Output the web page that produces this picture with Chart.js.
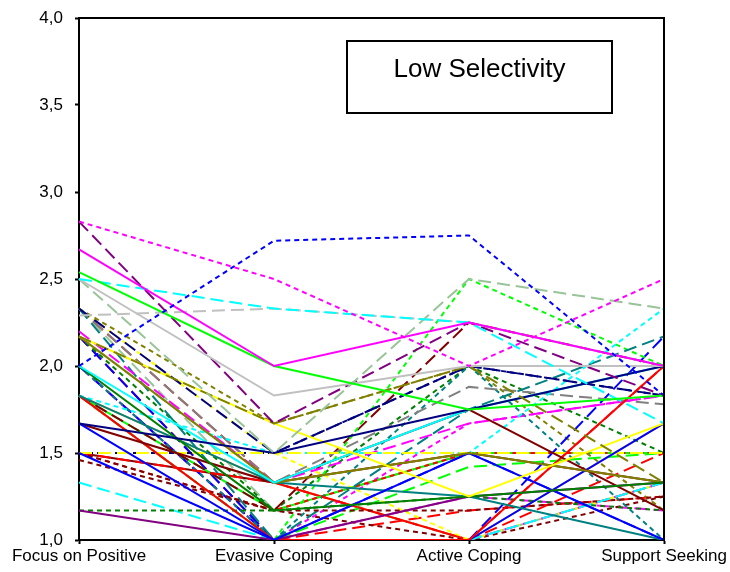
<!DOCTYPE html>
<html>
<head>
<meta charset="utf-8">
<script src="https://cdn.jsdelivr.net/npm/chart.js@4"></script>
<style>
  html, body { margin: 0; padding: 0; background: #fff; }
  #wrap { width: 730px; height: 572px; }
</style>
</head>
<body>
<div id="wrap"><canvas id="profileChart" width="730" height="572"></canvas></div>
<script>
// categories (scales of the coping profile)
const categories = ['Focus on Positive', 'Evasive Coping', 'Active Coping', 'Support Seeking'];
const yTicks = [1.0, 1.5, 2.0, 2.5, 3.0, 3.5, 4.0];
const groupLabel = 'Low Selectivity';

// one value per case
const focusOnPositive = [2.83, 2.00, 2.67, 2.54, 2.50, 2.50, 2.29, 2.50, 2.83, 2.17,
                         1.67, 2.33, 2.17, 2.00, 2.00, 2.17, 1.67, 1.17, 1.83, 1.67,
                         1.83, 1.50, 1.50, 1.83, 1.50, 1.17, 1.33, 1.50, 1.50, 1.83,
                         2.20, 2.33, 2.33, 1.83, 1.83, 2.00, 2.17, 2.00, 1.83, 2.33,
                         2.33, 1.50, 1.83, 2.17, 1.50, 2.33, 2.00, 1.46, 2.17, 2.17,
                         2.00, 1.83, 2.33];
const evasiveCoping   = [2.50, 2.72, 2.00, 2.00, 2.33, 1.83, 2.33, 1.50, 1.67, 1.67,
                         1.50, 1.50, 1.67, 1.33, 1.17, 1.33, 1.00, 1.00, 1.33, 1.33,
                         1.00, 1.00, 1.50, 1.50, 1.50, 1.17, 1.00, 1.17, 1.33, 1.00,
                         1.33, 1.00, 1.33, 1.00, 1.17, 1.00, 1.17, 1.00, 1.00, 1.50,
                         1.67, 1.17, 1.17, 1.00, 1.33, 1.33, 1.00, 1.17, 1.33, 1.00,
                         1.00, 1.33, 1.17];
const activeCoping    = [2.00, 2.75, 2.25, 1.75, 2.25, 2.00, 2.25, 2.50, 2.25, 2.00,
                         1.75, 2.00, 1.25, 1.75, 1.25, 1.50, 1.50, 1.25, 1.25, 1.75,
                         1.00, 1.00, 1.50, 1.50, 2.00, 1.25, 1.00, 1.17, 1.00, 1.42,
                         1.67, 1.75, 1.88, 2.50, 2.25, 2.00, 2.00, 1.00, 1.00, 1.00,
                         2.00, 1.50, 1.50, 1.50, 1.50, 1.00, 1.67, 1.00, 1.00, 1.17,
                         1.25, 1.00, 1.50];
const supportSeeking  = [2.50, 1.83, 2.00, 1.83, 1.67, 2.00, 2.00, 2.33, 1.83, 1.33,
                         2.00, 1.83, 1.67, 2.00, 1.33, 1.33, 1.00, 1.33, 1.00, 1.17,
                         2.00, 1.67, 1.50, 2.33, 1.83, 1.17, 1.33, 1.25, 1.50, 1.50,
                         1.83, 2.17, 1.78, 2.00, 2.00, 1.00, 1.50, 2.17, 1.33, 1.33,
                         1.17, 1.50, 1.50, 1.00, 1.33, 2.00, 1.83, 1.25, 1.33, 1.25,
                         1.17, 1.67, 1.50];

// line styles per case
const pal = {
  blue: '#0000FF', red: '#FF0000', lime: '#00FF00', magenta: '#FF00FF', cyan: '#00FFFF',
  yellow: '#FFFF00', maroon: '#800000', green: '#008000', navy: '#000080', olive: '#808000',
  purple: '#800080', teal: '#008080', silver: '#C0C0C0', gray: '#808080', sage: '#99C499',
  orange: '#FFC000'
};
const lineColors = ['magenta', 'blue', 'magenta', 'lime', 'cyan', 'silver', 'silver', 'sage', 'purple', 'olive',
                    'navy', 'navy', 'yellow', 'cyan', 'green', 'olive', 'blue', 'purple', 'teal', 'maroon',
                    'red', 'blue', 'yellow', 'cyan', 'navy', 'green', 'cyan', 'maroon', 'red', 'lime',
                    'magenta', 'teal', 'gray', 'lime', 'maroon', 'teal', 'green', 'blue', 'magenta', 'yellow',
                    'olive', 'red', 'lime', 'blue', 'maroon', 'red', 'magenta', 'maroon', 'sage', 'red',
                    'magenta', 'orange', 'sage'];
const lineDashes = ['short', 'short', 'solid', 'solid', 'long', 'solid', 'long', 'long', 'long', 'long',
                    'solid', 'long', 'solid', 'solid', 'solid', 'solid', 'solid', 'solid', 'solid', 'solid',
                    'solid', 'solid', 'long', 'short', 'short', 'short', 'long', 'short', 'long', 'long',
                    'long', 'long', 'long', 'short', 'long', 'short', 'short', 'long', 'long', 'short',
                    'short', 'short', 'solid', 'long', 'solid', 'long', 'short', 'short', 'long', 'long',
                    'long', 'solid', 'long'];
const dashPatterns = { solid: [], short: [5, 4], long: [13, 6] };

const fmt = v => v.toFixed(1).replace('.', ',');

const datasets = focusOnPositive.map((fp, i) => ({
  label: 'Case ' + (i + 1),
  data: [fp, evasiveCoping[i], activeCoping[i], supportSeeking[i]],
  borderColor: pal[lineColors[i]],
  borderDash: dashPatterns[lineDashes[i]],
  borderWidth: 2,
  pointRadius: 0,
  tension: 0,
  fill: false
}));

// frame around plot area and the group label box
const framePlugin = {
  id: 'frame',
  afterDraw(chart) {
    const { ctx, chartArea: a } = chart;
    ctx.save();
    ctx.strokeStyle = '#000';
    ctx.lineWidth = 2;
    ctx.beginPath();
    ctx.moveTo(a.left, a.top);
    ctx.lineTo(a.right, a.top);
    ctx.lineTo(a.right, a.bottom);
    ctx.stroke();

    // label box
    const bx = a.left + 268, by = a.top + 23, bw = 265, bh = 72;
    ctx.fillStyle = '#fff';
    ctx.fillRect(bx, by, bw, bh);
    ctx.lineWidth = 2;
    ctx.strokeRect(bx, by, bw, bh);
    ctx.fillStyle = '#000';
    ctx.font = '26px Arial, "Liberation Sans", sans-serif';
    ctx.textAlign = 'center';
    ctx.textBaseline = 'middle';
    ctx.fillText(groupLabel, bx + bw / 2, by + 29);
    ctx.restore();
  }
};

const ctx = document.getElementById('profileChart').getContext('2d');
new Chart(ctx, {
  type: 'line',
  data: { labels: categories, datasets: datasets },
  options: {
    responsive: false,
    animation: false,
    layout: { padding: { top: 18, right: 66, left: 0, bottom: 0 } },
    plugins: { legend: { display: false }, tooltip: { enabled: false } },
    scales: {
      x: {
        offset: false,
        grid: { drawOnChartArea: false, drawTicks: true, tickLength: 4, tickColor: '#000', tickWidth: 2 },
        border: { color: '#000', width: 2 },
        ticks: {
          color: '#000',
          padding: 2,
          maxRotation: 0,
          autoSkip: false,
          font: { family: 'Arial, "Liberation Sans", sans-serif', size: 17 }
        },
        afterFit(scale) {
          scale.height = 32;
          scale.paddingLeft = 0;
          scale.paddingRight = 0;
        }
      },
      y: {
        min: 1,
        max: 4,
        afterBuildTicks(scale) {
          scale.ticks = yTicks.map(v => ({ value: v }));
        },
        grid: { drawOnChartArea: false, drawTicks: true, tickLength: 4, tickColor: '#000', tickWidth: 2 },
        border: { color: '#000', width: 2 },
        ticks: {
          color: '#000',
          padding: 12,
          callback: v => fmt(v),
          font: { family: 'Arial, "Liberation Sans", sans-serif', size: 17 }
        },
        afterFit(scale) {
          scale.width = 79;
          scale.paddingTop = 0;
          scale.paddingBottom = 0;
        }
      }
    }
  },
  plugins: [framePlugin]
});
</script>
</body>
</html>
